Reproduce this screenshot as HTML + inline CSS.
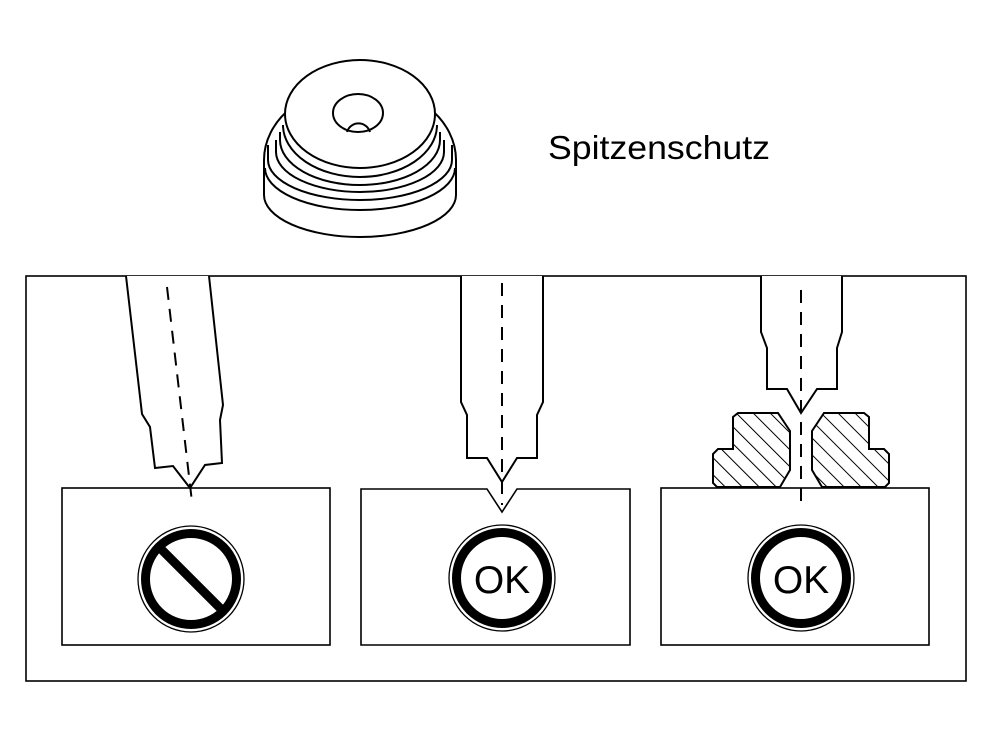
<!DOCTYPE html>
<html><head><style>html,body{margin:0;padding:0;background:#fff}svg{display:block}</style></head>
<body>
<svg width="1000" height="750" viewBox="0 0 1000 750" xmlns="http://www.w3.org/2000/svg">
<defs>
<pattern id="h" patternUnits="userSpaceOnUse" width="12" height="12" patternTransform="rotate(-45)">
<line x1="0" y1="0" x2="0" y2="12" stroke="#000" stroke-width="2"/>
</pattern>
</defs>
<g fill="none" stroke="#000" stroke-width="2">
<!-- cap -->
<path d="M264,195 L264,160 A96,75 0 0 1 456,160 L456,195 A96,42 0 0 1 264,195 Z"/>
<path d="M265,168 A95,42 0 0 0 455,168"/>
<path d="M268,145 L268,160 A92,40 0 0 0 452,160 L452,145"/>
<path d="M276,140 L276,152 A84,40 0 0 0 444,152 L444,140"/>
<path d="M280,132 L280,140 A80,45 0 0 0 440,140 L440,132"/>
<path d="M283,125 A77,52 0 0 0 437,125"/>
<ellipse cx="360" cy="114" rx="75" ry="54" fill="#fff"/>
<ellipse cx="358" cy="113" rx="25" ry="19"/>
<path d="M347,132 A12,12 0 0 1 370,132"/>
<!-- frame -->
<rect x="26" y="276" width="940" height="405" stroke-width="1.6"/>
<rect x="62" y="488" width="268" height="157" stroke-width="1.6"/>
<path d="M361,489 L487,489 L502,512 L517,489 L630,489 L630,645 L361,645 Z" stroke-width="1.6"/>
<rect x="661" y="488" width="268" height="157" stroke-width="1.6"/>
<!-- probe1 -->
<path d="M126,276 L142,414 L150,427 L155,468 L173,466 L190,488 L205,465 L222,463 L220,420 L223,405 L209,276" fill="#fff"/>
<line x1="167" y1="287" x2="192" y2="502" stroke-dasharray="13,9"/>
<!-- probe2 -->
<path d="M461,276 L461,402 L467,415 L467,458 L487,458 L502,482 L517,458 L537,458 L537,415 L543,402 L543,276" fill="#fff"/>
<line x1="502" y1="283" x2="502" y2="505" stroke-dasharray="13,9"/>
<!-- probe3 -->
<path d="M761,276 L761,332 L767,348 L767,389 L787,389 L801,413 L817,389 L837,389 L837,348 L842,332 L842,276" fill="#fff"/>
<line x1="801" y1="290" x2="801" y2="502" stroke-dasharray="13,9"/>
<!-- protector halves -->
<path d="M738,413 L778,413 L790,431 L790,470 L780,487 L717,487 L713,483 L713,454 L718,449 L733,449 L733,417 Z" fill="url(#h)"/>
<path d="M864,413 L824,413 L812,431 L812,470 L822,487 L885,487 L889,483 L889,454 L884,449 L869,449 L869,417 Z" fill="url(#h)"/>
<!-- signs -->
<circle cx="191" cy="579" r="53" stroke-width="1.3"/>
<circle cx="191" cy="579" r="45.5" stroke-width="9"/>
<line x1="160" y1="548" x2="222" y2="610" stroke-width="9"/>
<circle cx="502" cy="578" r="53" stroke-width="1.3"/>
<circle cx="502" cy="578" r="45.5" stroke-width="9"/>
<circle cx="801" cy="578" r="53" stroke-width="1.3"/>
<circle cx="801" cy="578" r="45.5" stroke-width="9"/>
</g>
<g font-family="Liberation Sans, sans-serif" fill="#000">
<text x="548" y="159" font-size="33" textLength="222" lengthAdjust="spacingAndGlyphs">Spitzenschutz</text>
<text x="502" y="593" font-size="39" text-anchor="middle">OK</text>
<text x="801" y="593" font-size="39" text-anchor="middle">OK</text>
</g>
</svg>
</body></html>
